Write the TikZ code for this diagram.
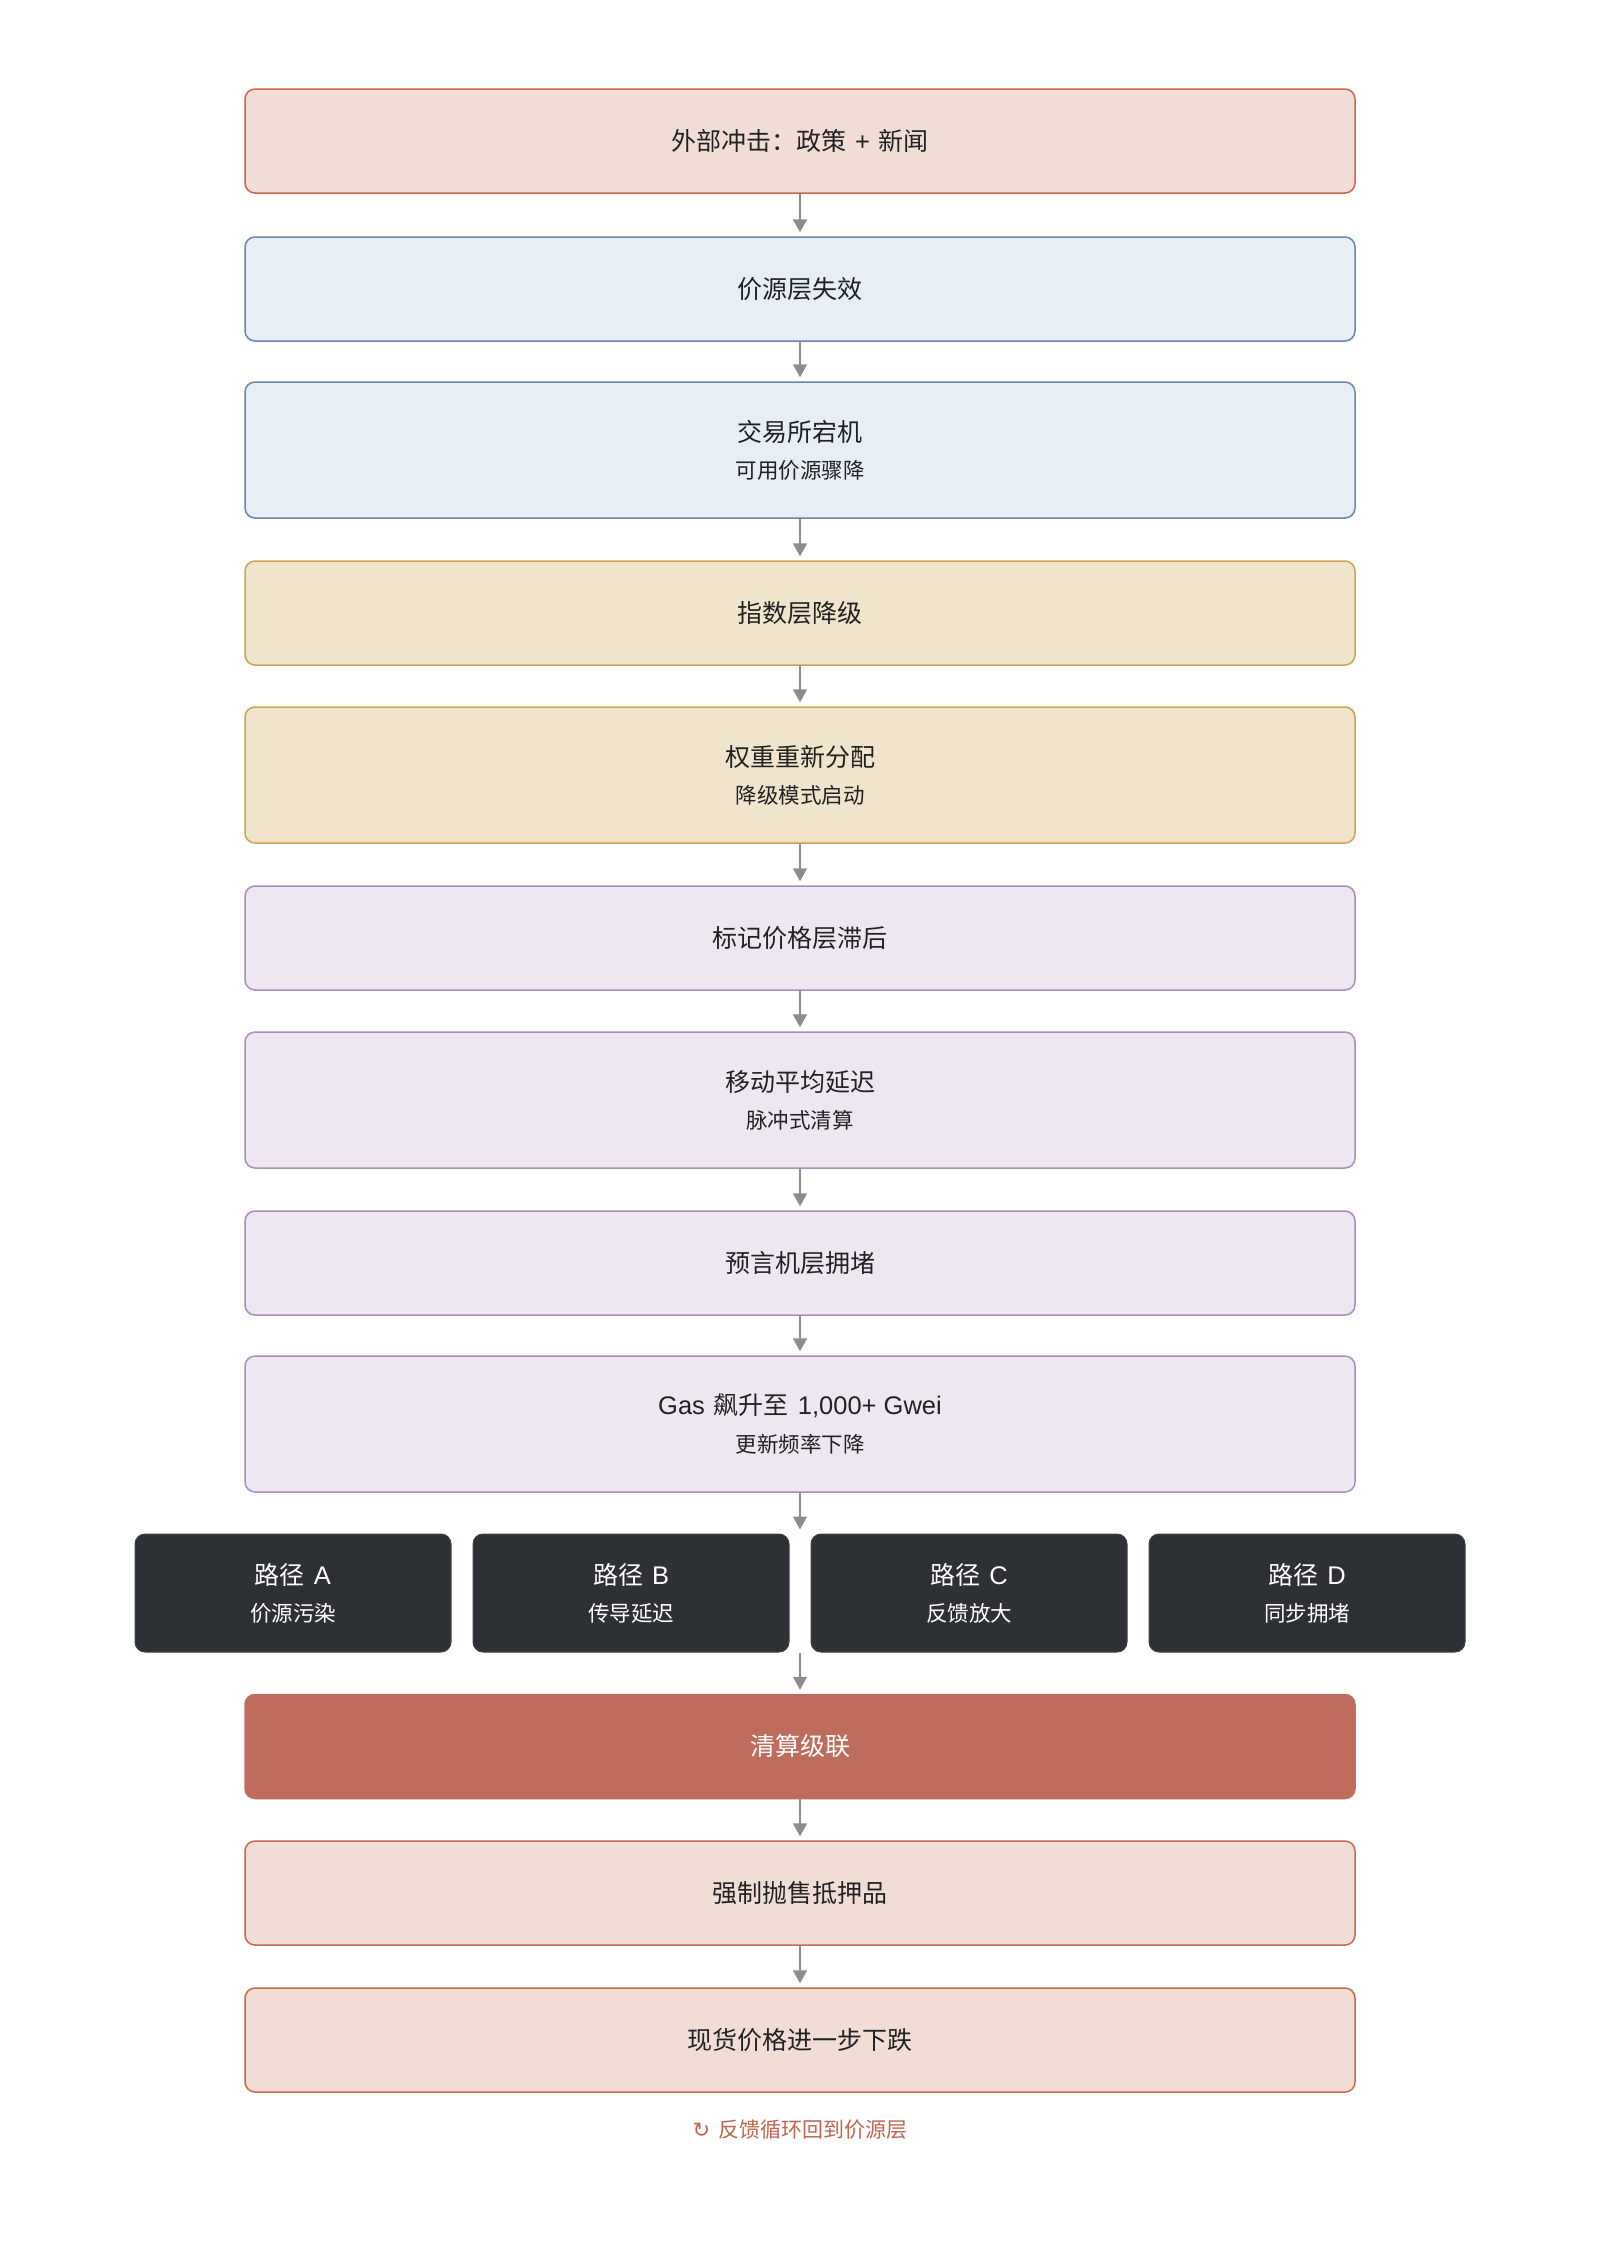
\documentclass[tikz,border=0pt]{standalone}
\usepackage{fontspec}
\setmainfont{Noto Sans CJK SC}
\newfontfamily\symfont{DejaVu Sans}
\newfontfamily\latfont[Scale=1.02]{Liberation Sans}
\newcommand{\lat}[1]{{\latfont #1}}
\newcommand{\gap}{\hspace{9pt}}
\usetikzlibrary{arrows.meta}
\definecolor{textdark}{HTML}{222222}
\definecolor{redfill}{HTML}{F2DDD6}
\definecolor{redline}{HTML}{C9664F}
\definecolor{bluefill}{HTML}{E7EEF6}
\definecolor{blueline}{HTML}{6B86A8}
\definecolor{yelfill}{HTML}{F0E4CB}
\definecolor{yelline}{HTML}{C9A550}
\definecolor{purfill}{HTML}{EEE7F2}
\definecolor{purline}{HTML}{A88DB8}
\definecolor{darkfill}{HTML}{2D3035}
\definecolor{darkline}{HTML}{3E4146}
\definecolor{cascfill}{HTML}{BE6D5C}
\definecolor{arrowgray}{HTML}{8C8C8C}
\definecolor{fbtext}{HTML}{C0654F}
\newcommand{\mainsize}{\fontsize{25}{29}\selectfont}
\newcommand{\subsize}{\fontsize{21.5}{25}\selectfont}
\newcommand{\fbsize}{\fontsize{21}{25}\selectfont}
\begin{document}
\begin{tikzpicture}[x=1pt,y=-1pt,
  base/.style={rectangle, rounded corners=10pt, line width=1.5pt, minimum width=1110pt, inner sep=0pt, text=textdark, font=\mainsize},
  single/.style={minimum height=104pt},
  double/.style={minimum height=136pt},
  redbox/.style={base, single, draw=redline, fill=redfill},
  bluebox/.style={base, draw=blueline, fill=bluefill},
  yelbox/.style={base, draw=yelline, fill=yelfill},
  purbox/.style={base, draw=purline, fill=purfill},
  pathbox/.style={rectangle, rounded corners=10pt, line width=1pt, draw=darkline, fill=darkfill, minimum width=316pt, minimum height=118pt, inner sep=0pt},
  cascbox/.style={base, single, draw=cascfill, fill=cascfill, text=white},
  ttl/.style={inner sep=0pt, font=\mainsize, text=textdark},
  sub/.style={inner sep=0pt, font=\subsize, text=textdark},
  wttl/.style={ttl, text=white},
  wsub/.style={sub, text=white},
  fbnote/.style={inner sep=0pt, font=\fbsize, text=fbtext},
  flow/.style={draw=arrowgray, line width=2pt, -{Triangle[length=13pt,width=14pt]}, shorten >=4pt}
]
\useasboundingbox[fill=white] (0,0) rectangle (1600,2262);

% main chain
\node[redbox] (b1) at (800,141) {外部冲击：政策\gap\lat{+}\gap 新闻};
\node[bluebox, single] (b2) at (800,289) {价源层失效};
\node[bluebox, double] (b3) at (800,450) {};
\node[ttl] (b3t) at (800,432) {交易所宕机};
\node[sub] (b3s) at (800,470) {可用价源骤降};
\node[yelbox, single] (b4) at (800,613) {指数层降级};
\node[yelbox, double] (b5) at (800,775) {};
\node[ttl] (b5t) at (800,757) {权重重新分配};
\node[sub] (b5s) at (800,795) {降级模式启动};
\node[purbox, single] (b6) at (800,938) {标记价格层滞后};
\node[purbox, double] (b7) at (800,1100) {};
\node[ttl] (b7t) at (800,1082) {移动平均延迟};
\node[sub] (b7s) at (800,1120) {脉冲式清算};
\node[purbox, single] (b8) at (800,1263) {预言机层拥堵};
\node[purbox, double] (b9) at (800,1424) {};
\node[ttl] (b9t) at (800,1406) {\lat{Gas}\gap 飙升至\gap\lat{1,000+ Gwei}};
\node[sub] (b9s) at (800,1444) {更新频率下降};

% paths
\node[pathbox] (pa) at (293,1593) {};
\node[wttl] (pat) at (293,1575) {路径\gap\lat{A}};
\node[wsub] (pas) at (293,1613) {价源污染};
\node[pathbox] (pb) at (631,1593) {};
\node[wttl] (pbt) at (631,1575) {路径\gap\lat{B}};
\node[wsub] (pbs) at (631,1613) {传导延迟};
\node[pathbox] (pc) at (969,1593) {};
\node[wttl] (pct) at (969,1575) {路径\gap\lat{C}};
\node[wsub] (pcs) at (969,1613) {反馈放大};
\node[pathbox] (pd) at (1307,1593) {};
\node[wttl] (pdt) at (1307,1575) {路径\gap\lat{D}};
\node[wsub] (pds) at (1307,1613) {同步拥堵};
\coordinate (gaptop) at (pb.north east -| b9.south);
\coordinate (gapbot) at (pb.south east -| b9.south);

% bottom chain
\node[cascbox] (b10) at (800,1746.5) {清算级联};
\node[redbox] (b11) at (800,1893) {强制抛售抵押品};
\node[redbox] (b12) at (800,2040) {现货价格进一步下跌};
\node[fbnote] (fb) at (800,2130) {{\symfont ↻}\hspace{8pt}反馈循环回到价源层};

% connectors
\draw[flow] (b1.south) -- (b2.north);
\draw[flow] (b2.south) -- (b3.north);
\draw[flow] (b3.south) -- (b4.north);
\draw[flow] (b4.south) -- (b5.north);
\draw[flow] (b5.south) -- (b6.north);
\draw[flow] (b6.south) -- (b7.north);
\draw[flow] (b7.south) -- (b8.north);
\draw[flow] (b8.south) -- (b9.north);
\draw[flow] (b9.south) -- (gaptop);
\draw[flow] (gapbot) -- (b10.north);
\draw[flow] (b10.south) -- (b11.north);
\draw[flow] (b11.south) -- (b12.north);
\end{tikzpicture}
\end{document}
